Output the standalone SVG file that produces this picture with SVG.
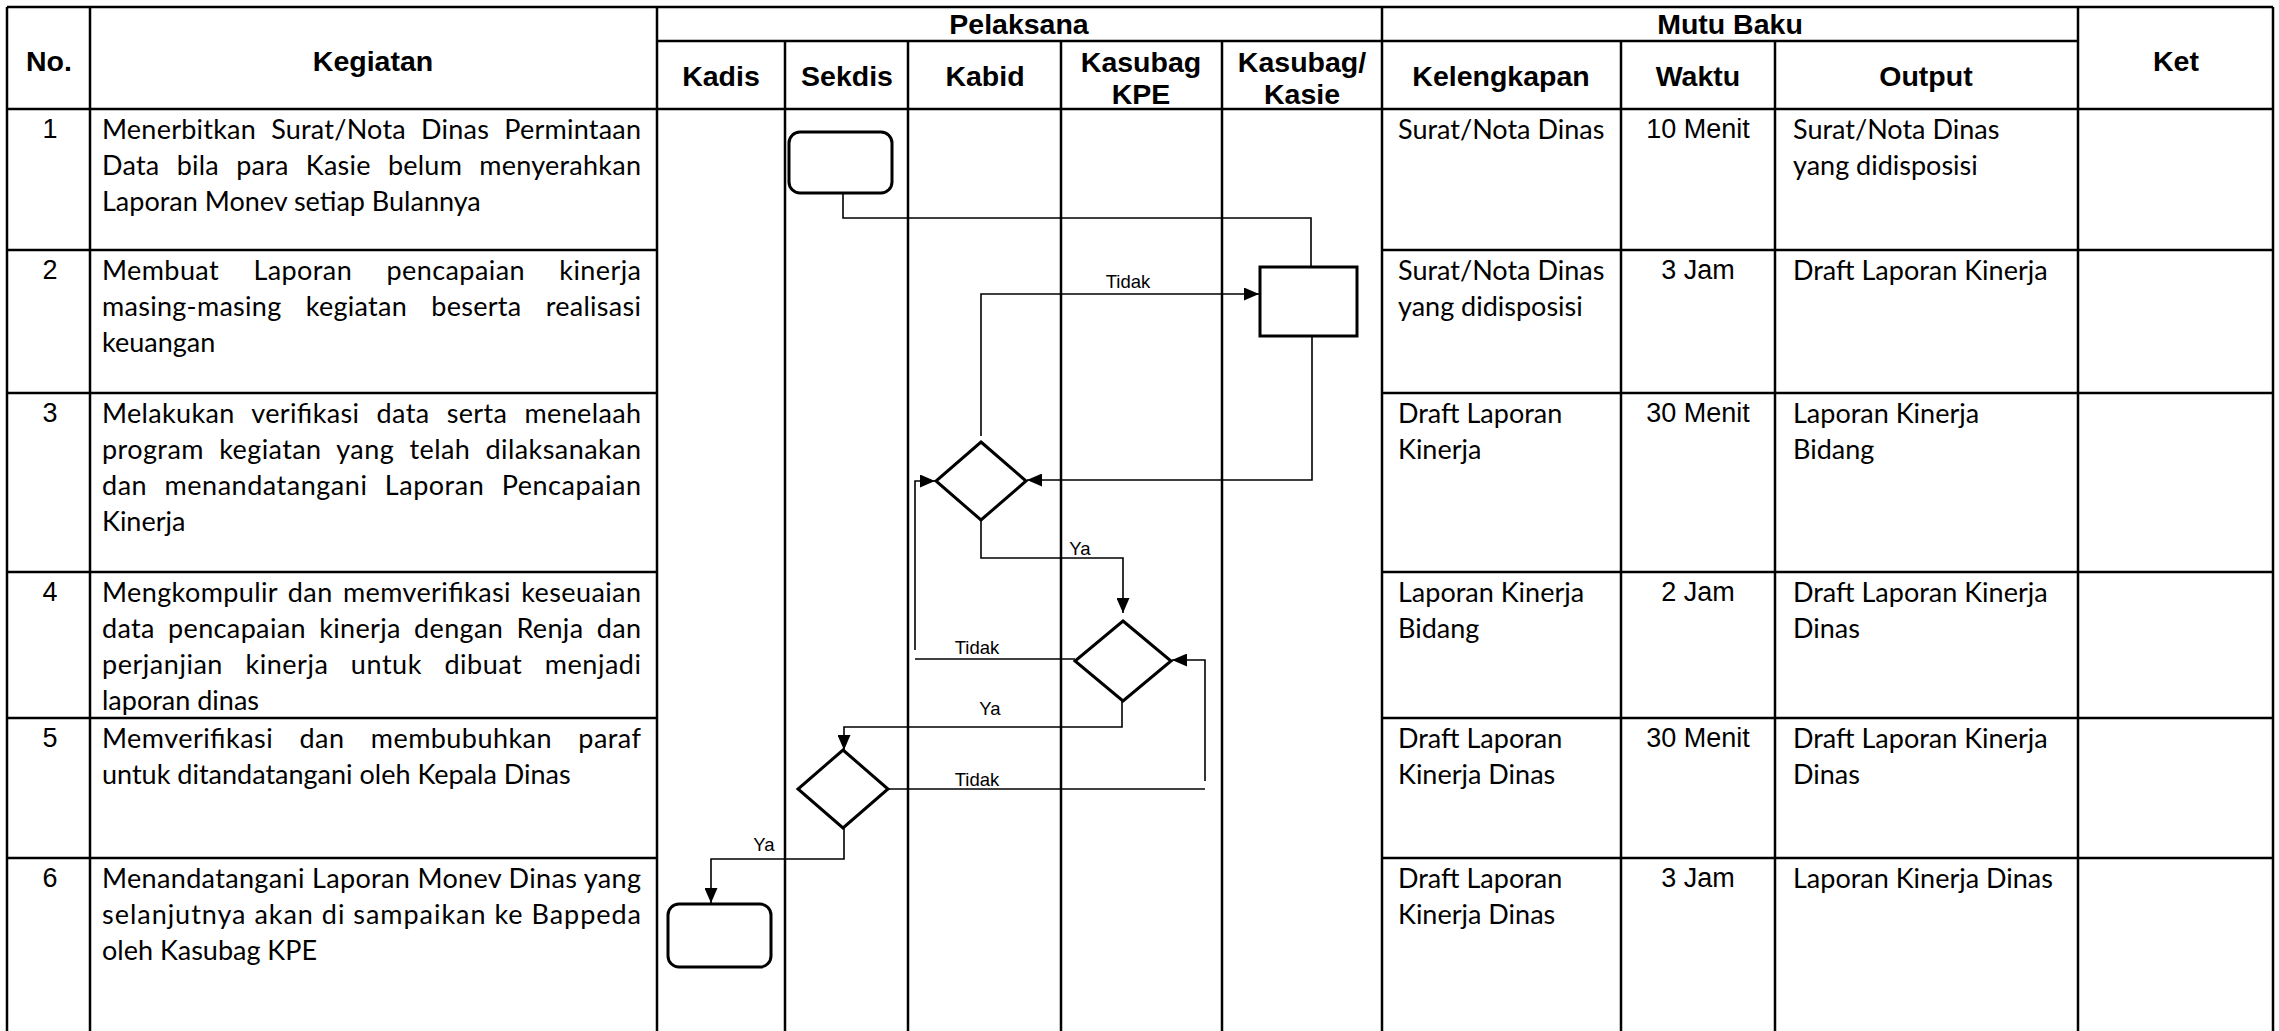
<svg xmlns="http://www.w3.org/2000/svg" width="2279" height="1031" viewBox="0 0 2279 1031">
<style>
.grid{stroke:#000;stroke-width:2.5;fill:none}
.shape{fill:#fff;stroke:#000;stroke-width:3}
.conn{fill:none;stroke:#000;stroke-width:1.6}
.h{font-family:"Liberation Sans",Arial,sans-serif;font-weight:bold;font-size:28.5px;text-anchor:middle;fill:#000}
.b{font-family:Lato,"Liberation Sans",sans-serif;font-size:27px;fill:#000}
.n{font-family:"Liberation Sans",Arial,sans-serif;font-size:27px;text-anchor:middle;fill:#000}
.lbl{font-family:"Liberation Sans",Arial,sans-serif;font-size:18.5px;text-anchor:middle;fill:#000}
</style>
<defs>
<marker id="arr" markerWidth="15" markerHeight="13" refX="15" refY="6.5" orient="auto" markerUnits="userSpaceOnUse">
<path d="M0,0 L15,6.5 L0,13 z" fill="#000"/>
</marker>
</defs>
<rect width="2279" height="1031" fill="#fff"/>
<g id="table" class="grid">
<line x1="7" y1="7" x2="2273" y2="7"/>
<line x1="7" y1="7" x2="7" y2="1031"/>
<line x1="2273" y1="7" x2="2273" y2="1031"/>
<line x1="90" y1="7" x2="90" y2="1031"/>
<line x1="657" y1="7" x2="657" y2="1031"/>
<line x1="1382" y1="7" x2="1382" y2="1031"/>
<line x1="2078" y1="7" x2="2078" y2="1031"/>
<line x1="785" y1="41" x2="785" y2="1031"/>
<line x1="908" y1="41" x2="908" y2="1031"/>
<line x1="1061" y1="41" x2="1061" y2="1031"/>
<line x1="1222" y1="41" x2="1222" y2="1031"/>
<line x1="1621" y1="41" x2="1621" y2="1031"/>
<line x1="1775" y1="41" x2="1775" y2="1031"/>
<line x1="657" y1="41" x2="2078" y2="41"/>
<line x1="7" y1="109" x2="2273" y2="109"/>
<path d="M7,250H657M1382,250H2273M7,393H657M1382,393H2273M7,572H657M1382,572H2273M7,718H657M1382,718H2273M7,858H657M1382,858H2273"/>
</g>
<g id="headers">
<text class="h" x="49" y="71">No.</text>
<text class="h" x="373" y="71">Kegiatan</text>
<text class="h" x="1019" y="34">Pelaksana</text>
<text class="h" x="1730" y="34">Mutu Baku</text>
<text class="h" x="2176" y="71">Ket</text>
<text class="h" x="721" y="86">Kadis</text>
<text class="h" x="847" y="86">Sekdis</text>
<text class="h" x="985" y="86">Kabid</text>
<text class="h" x="1141" y="72">Kasubag</text>
<text class="h" x="1141" y="104">KPE</text>
<text class="h" x="1302" y="72">Kasubag/</text>
<text class="h" x="1302" y="104">Kasie</text>
<text class="h" x="1501" y="86">Kelengkapan</text>
<text class="h" x="1698" y="86">Waktu</text>
<text class="h" x="1926" y="86">Output</text>
</g>
<g id="numbers">
<text class="n" x="50" y="138">1</text>
<text class="n" x="50" y="279">2</text>
<text class="n" x="50" y="422">3</text>
<text class="n" x="50" y="601">4</text>
<text class="n" x="50" y="747">5</text>
<text class="n" x="50" y="887">6</text>
</g>
<g id="kegiatan">
<text class="b" style="word-spacing:8px" x="102" y="139" textLength="539" lengthAdjust="spacing">Menerbitkan Surat/Nota Dinas Permintaan</text>
<text class="b" style="word-spacing:10px" x="102" y="175" textLength="539" lengthAdjust="spacing">Data bila para Kasie belum menyerahkan</text>
<text class="b" x="102" y="211">Laporan Monev setiap Bulannya</text>
<text class="b" style="word-spacing:27px" x="102" y="280" textLength="539" lengthAdjust="spacing">Membuat Laporan pencapaian kinerja</text>
<text class="b" style="word-spacing:17px" x="102" y="316" textLength="539" lengthAdjust="spacing">masing-masing kegiatan beserta realisasi</text>
<text class="b" x="102" y="352">keuangan</text>
<text class="b" style="word-spacing:10px" x="102" y="423" textLength="539" lengthAdjust="spacing">Melakukan verifikasi data serta menelaah</text>
<text class="b" style="word-spacing:8px" x="102" y="459" textLength="539" lengthAdjust="spacing">program kegiatan yang telah dilaksanakan</text>
<text class="b" style="word-spacing:10px" x="102" y="495" textLength="539" lengthAdjust="spacing">dan menandatangani Laporan Pencapaian</text>
<text class="b" x="102" y="531">Kinerja</text>
<text class="b" style="word-spacing:3px" x="102" y="602" textLength="539" lengthAdjust="spacing">Mengkompulir dan memverifikasi keseuaian</text>
<text class="b" style="word-spacing:6px" x="102" y="638" textLength="539" lengthAdjust="spacing">data pencapaian kinerja dengan Renja dan</text>
<text class="b" style="word-spacing:15px" x="102" y="674" textLength="539" lengthAdjust="spacing">perjanjian kinerja untuk dibuat menjadi</text>
<text class="b" x="102" y="710">laporan dinas</text>
<text class="b" style="word-spacing:19px" x="102" y="748" textLength="539" lengthAdjust="spacing">Memverifikasi dan membubuhkan paraf</text>
<text class="b" x="102" y="784">untuk ditandatangani oleh Kepala Dinas</text>
<text class="b" x="102" y="888" textLength="539" lengthAdjust="spacing">Menandatangani Laporan Monev Dinas yang</text>
<text class="b" x="102" y="924" textLength="539" lengthAdjust="spacing">selanjutnya akan di sampaikan ke Bappeda</text>
<text class="b" x="102" y="960">oleh Kasubag KPE</text>
</g>
<g id="kelengkapan">
<text class="b" x="1398" y="139">Surat/Nota Dinas</text>
<text class="b" x="1398" y="280">Surat/Nota Dinas</text>
<text class="b" x="1398" y="316">yang didisposisi</text>
<text class="b" x="1398" y="423">Draft Laporan</text>
<text class="b" x="1398" y="459">Kinerja</text>
<text class="b" x="1398" y="602">Laporan Kinerja</text>
<text class="b" x="1398" y="638">Bidang</text>
<text class="b" x="1398" y="748">Draft Laporan</text>
<text class="b" x="1398" y="784">Kinerja Dinas</text>
<text class="b" x="1398" y="888">Draft Laporan</text>
<text class="b" x="1398" y="924">Kinerja Dinas</text>
</g>
<g id="waktu">
<text class="n" x="1698" y="138">10 Menit</text>
<text class="n" x="1698" y="279">3 Jam</text>
<text class="n" x="1698" y="422">30 Menit</text>
<text class="n" x="1698" y="601">2 Jam</text>
<text class="n" x="1698" y="747">30 Menit</text>
<text class="n" x="1698" y="887">3 Jam</text>
</g>
<g id="output">
<text class="b" x="1793" y="139">Surat/Nota Dinas</text>
<text class="b" x="1793" y="175">yang didisposisi</text>
<text class="b" x="1793" y="280">Draft Laporan Kinerja</text>
<text class="b" x="1793" y="423">Laporan Kinerja</text>
<text class="b" x="1793" y="459">Bidang</text>
<text class="b" x="1793" y="602">Draft Laporan Kinerja</text>
<text class="b" x="1793" y="638">Dinas</text>
<text class="b" x="1793" y="748">Draft Laporan Kinerja</text>
<text class="b" x="1793" y="784">Dinas</text>
<text class="b" x="1793" y="888">Laporan Kinerja Dinas</text>
</g>
<g id="connectors">
<path class="conn" d="M843,193 V218 H1311 V293" marker-end="url(#arr)"/>
<path class="conn" d="M1312,336 V480 H1027" marker-end="url(#arr)"/>
<path class="conn" d="M981,436 V294 H1259" marker-end="url(#arr)"/>
<path class="conn" d="M981,520 V558 H1123 V613" marker-end="url(#arr)"/>
<path class="conn" d="M1075,659 H915"/>
<path class="conn" d="M915,650 V481 H935" marker-end="url(#arr)"/>
<path class="conn" d="M888,789 H1205"/>
<path class="conn" d="M1205,781 V660 H1172" marker-end="url(#arr)"/>
<path class="conn" d="M1122,701 V727 H844 V750" marker-end="url(#arr)"/>
<path class="conn" d="M844,828 V859 H711 V903" marker-end="url(#arr)"/>
<text class="lbl" x="1128" y="288">Tidak</text>
<text class="lbl" x="1080" y="555">Ya</text>
<text class="lbl" x="977" y="654">Tidak</text>
<text class="lbl" x="990" y="715">Ya</text>
<text class="lbl" x="977" y="786">Tidak</text>
<text class="lbl" x="764" y="851">Ya</text>
</g>
<g id="start"><rect class="shape" x="789" y="132" width="103" height="61" rx="11"/></g>
<g id="process"><rect class="shape" x="1260" y="267" width="97" height="69"/></g>
<g id="decision1"><polygon class="shape" points="981,442 1026,481 981,520 936,481"/></g>
<g id="decision2"><polygon class="shape" points="1123,621 1171,661 1123,701 1075,661"/></g>
<g id="decision3"><polygon class="shape" points="843,750 888,789 843,828 798,789"/></g>
<g id="end"><rect class="shape" x="668" y="904" width="103" height="63" rx="11"/></g>
</svg>
